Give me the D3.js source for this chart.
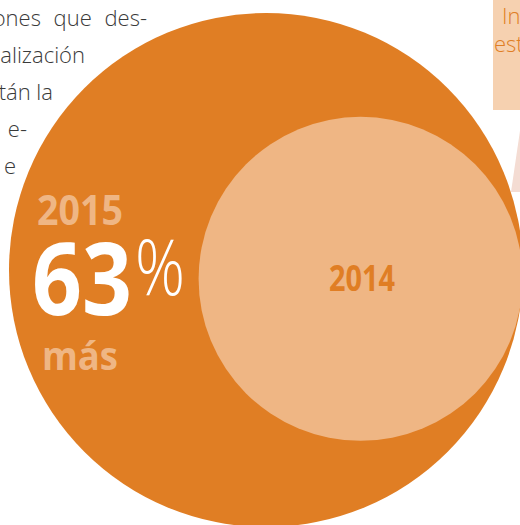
<!DOCTYPE html>
<html>
<head>
<meta charset="utf-8">
<title>2014 vs 2015</title>
<script src="https://cdn.jsdelivr.net/npm/d3@7"></script>
<style>
  html, body { margin: 0; padding: 0; background: #fff; }
  svg { display: block; }
  .para { font: 300 22px "Open Sans", "Noto Sans", sans-serif; fill: #3a3a3a; text-anchor: end; }
  .big { font-family: "Open Sans", "Noto Sans", sans-serif; }
</style>
</head>
<body>
<script>
// values: 2014 is the base, 2015 is 63% more
var years = ["2014", "2015"];
var values = [100, 163];
var growthLabel = "63";
var wordMore = "más";

// side text cut by the page edge
var paraLines = ["ones que des-", "alización", "tán la", "e-", "e"];
var paraEnds = [147, 85, 53, 27, 16];
var boxLines = ["In", "est"];

var width = 520, height = 525;
var orange = "#e07e24", light = "#efb684", pale = "#f6d1b0";

var svg = d3.select("body").append("svg")
    .attr("width", width)
    .attr("height", height);

var r = d3.scaleLinear().domain([100, 163]).range([162, 257]);

// big circle, small one inside touching its right side
var cx = 266, cy = 270;
var ang = Math.atan2(9, 96);
var gap = r(values[1]) - r(values[0]);
var circles = [
  { year: years[1], v: values[1], x: cx, y: cy, fill: orange },
  { year: years[0], v: values[0], x: cx + gap * Math.cos(ang), y: cy + gap * Math.sin(ang), fill: light }
];

// side box top right
svg.append("rect")
    .attr("x", 493).attr("y", 0)
    .attr("width", 30).attr("height", 110)
    .attr("fill", pale);
svg.append("path")
    .attr("d", "M521,124 L511,192 L521,192 Z")
    .attr("fill", "#f4dcd3");
svg.selectAll("text.box")
  .data(boxLines)
  .enter().append("text")
    .attr("class", "box big")
    .attr("x", function(d, i) { return i ? 494 : 502; })
    .attr("y", function(d, i) { return 24 + i * 28; })
    .attr("font-size", 22)
    .attr("font-weight", 300)
    .attr("fill", orange)
    .text(function(d) { return d; });

svg.selectAll("circle")
  .data(circles)
  .enter().append("circle")
    .attr("cx", function(d) { return d.x; })
    .attr("cy", function(d) { return d.y; })
    .attr("r", function(d) { return r(d.v); })
    .attr("fill", function(d) { return d.fill; });

svg.selectAll("text.para")
  .data(paraLines)
  .enter().append("text")
    .attr("class", "para")
    .attr("x", function(d, i) { return paraEnds[i]; })
    .attr("y", function(d, i) { return 26 + i * 37; })
    .attr("word-spacing", function(d, i) { return i === 0 ? 7 : 0; })
    .text(function(d) { return d; });

// labels
function label(txt, x, y, size, weight, fill, len) {
  return svg.append("text")
      .attr("class", "big")
      .attr("x", x).attr("y", y)
      .attr("font-size", size)
      .attr("font-weight", weight)
      .attr("fill", fill)
      .attr("textLength", len)
      .attr("lengthAdjust", "spacingAndGlyphs")
      .text(txt);
}

label(years[1], 37, 225, 42, 700, light, 86);
label(growthLabel, 32, 315, 100, 700, "#fff", 100);
label("%", 135, 295, 78, 300, "#fff", 50);
label(wordMore, 42, 370, 40, 700, light, 76);
label(years[0], 329, 291, 36, 700, orange, 66);
</script>
</body>
</html>
